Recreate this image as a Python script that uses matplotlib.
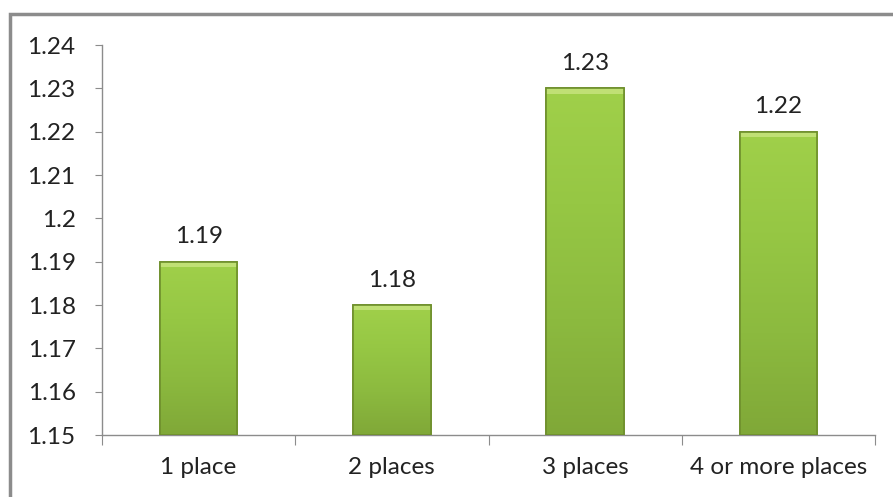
import matplotlib.pyplot as plt
import numpy as np
from matplotlib.colors import LinearSegmentedColormap
from matplotlib.patches import Rectangle

# Data
categories = ['1 place', '2 places', '3 places', '4 or more places']
values = [1.19, 1.18, 1.23, 1.22]
yticks = [1.15, 1.16, 1.17, 1.18, 1.19, 1.2, 1.21, 1.22, 1.23, 1.24]
ytick_labels = ['1.15', '1.16', '1.17', '1.18', '1.19', '1.2', '1.21', '1.22', '1.23', '1.24']

plt.rcParams['font.family'] = ['Lato', 'DejaVu Sans']

fig = plt.figure(figsize=(8.93, 4.97), dpi=100)
fig.patch.set_facecolor('white')

# grey chart-area frame (runs off the right and bottom edges)
fig.add_artist(Rectangle((10 / 893, -0.05), 0.99, 1 - 14 / 497 + 0.05,
                         transform=fig.transFigure, fill=False,
                         edgecolor='#8c8c8c', linewidth=2.5))

ax = fig.add_axes([102 / 893, 1 - 435 / 497, (875 - 102) / 893, (435 - 45) / 497])
ax.set_facecolor('white')

x = np.arange(len(categories))
width = 0.4
base = 1.15
bars = ax.bar(x, np.array(values) - base, width, bottom=base,
              color='#8fbc3e', edgecolor='#6e8f2c', linewidth=1.2, zorder=2)

# gentle vertical gradient inside each bar: a touch lighter towards the top
grad_cmap = LinearSegmentedColormap.from_list(
    'bar_green', ['#80a838', '#8cba3f', '#96c744', '#a0d04a'])
grad = np.linspace(0, 1, 256).reshape(-1, 1)
for bar, v in zip(bars, values):
    x0 = bar.get_x()
    im = ax.imshow(grad, cmap=grad_cmap, origin='lower', aspect='auto',
                   extent=(x0, x0 + width, base, v), zorder=2.5,
                   interpolation='bicubic')
    im.set_clip_path(bar)
    # soft bevel on the top edge
    ax.add_patch(Rectangle((x0, v - 0.0012), width, 0.0012,
                           facecolor='#c4e27a', edgecolor='none',
                           alpha=0.9, zorder=3))
    ax.add_patch(Rectangle((x0, base), width, v - base, fill=False,
                           edgecolor='#6e8f2c', linewidth=1.2, zorder=3.5))
    ax.text(x0 + width / 2, v + 0.0033, f'{v:.2f}', ha='center', va='bottom',
            fontsize=17.5, color='#222222')

ax.set_xlim(-0.5, len(categories) - 0.5)
ax.set_ylim(1.15, 1.24)
ax.set_yticks(yticks)
ax.set_yticklabels(ytick_labels, fontsize=17.5, color='#222222')

# category ticks sit on the boundaries between groups
ax.set_xticks(np.arange(len(categories) + 1) - 0.5)
ax.set_xticklabels([])
ax.set_xticks(x, minor=True)
ax.set_xticklabels(categories, minor=True, fontsize=17.5, color='#222222')
ax.tick_params(axis='x', which='minor', length=0, pad=16)
ax.tick_params(axis='x', which='major', length=7, color='#8c8c8c', direction='out')
ax.tick_params(axis='y', length=5, color='#8c8c8c', pad=14)

for side in ['top', 'right']:
    ax.spines[side].set_visible(False)
for side in ['left', 'bottom']:
    ax.spines[side].set_color('#8c8c8c')
    ax.spines[side].set_linewidth(1.0)

fig.savefig('out.png', dpi=100)
